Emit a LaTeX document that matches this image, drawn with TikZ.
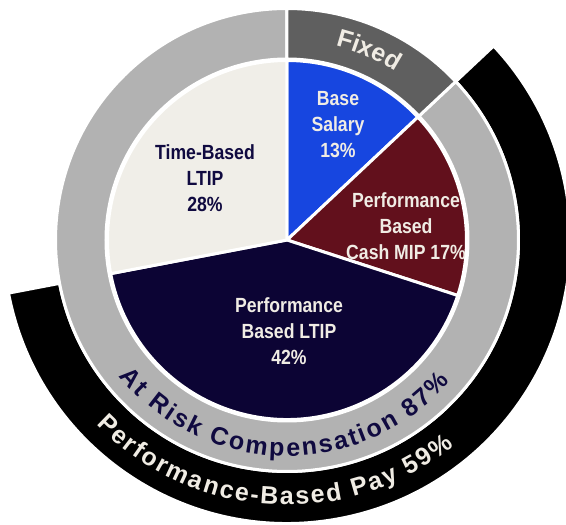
\documentclass[tikz,border=0pt]{standalone}
\usepackage{fontspec}
\setmainfont{Liberation Sans}
\newfontfamily\narrowfont{Liberation Sans}[FakeStretch=0.86]
\usetikzlibrary{decorations.text}

\definecolor{basecol}{RGB}{23,70,224}
\definecolor{mipcol}{RGB}{98,16,28}
\definecolor{ltipcol}{RGB}{12,4,52}
\definecolor{timecol}{RGB}{240,238,232}
\definecolor{ringgray}{RGB}{178,178,178}
\definecolor{fixedgray}{RGB}{95,95,95}
\definecolor{lighttext}{RGB}{240,236,228}
\definecolor{navytext}{RGB}{16,10,64}

\newcommand{\arcfont}{\bfseries\fontsize{25}{25}\selectfont}

\begin{document}
\begin{tikzpicture}[x=1pt, y=1pt,
        slice/.style={draw=white, line width=3pt},
        lbl/.style={align=center, font=\narrowfont\bfseries\fontsize{20.5}{26}\selectfont}]
        \useasboundingbox (-287,-285) rectangle (279,240);

        % outer band: performance-based pay
        \draw[slice, fill=black] (43.2:231.5pt) arc[start angle=43.2, end angle=-169.2, radius=231.5pt]
            -- (-169.2:283.5pt) arc[start angle=-169.2, end angle=43.2, radius=283.5pt] -- cycle;

        % middle ring: at risk + fixed
        \draw[slice, fill=ringgray] (90:181pt) arc[start angle=90, end angle=-316.8, radius=181pt]
            -- (43.2:231.5pt) arc[start angle=-316.8, end angle=90, radius=231.5pt] -- cycle;
        \draw[slice, fill=fixedgray] (90:181pt) arc[start angle=90, end angle=43.2, radius=181pt]
            -- (43.2:231.5pt) arc[start angle=43.2, end angle=90, radius=231.5pt] -- cycle;

        % pie
        \draw[slice, fill=basecol] (0,0) -- (90:179.5pt) arc[start angle=90, end angle=43.2, radius=179.5pt] -- cycle;
        \draw[slice, fill=mipcol] (0,0) -- (43.2:179.5pt) arc[start angle=43.2, end angle=-18, radius=179.5pt] -- cycle;
        \draw[slice, fill=ltipcol] (0,0) -- (-18:179.5pt) arc[start angle=-18, end angle=-169.2, radius=179.5pt] -- cycle;
        \draw[slice, fill=timecol] (0,0) -- (-169.2:179.5pt) arc[start angle=-169.2, end angle=-270, radius=179.5pt] -- cycle;

        \node[lbl, text=lighttext] (base) at (51,115) {Base\\Salary\\13\%};
        \node[lbl, text=lighttext] (mip) at (119,14) {Performance\\Based\\Cash MIP 17\%};
        \node[lbl, text=lighttext] (ltip) at (2,-91) {Performance\\Based LTIP\\42\%};
        \node[lbl, text=navytext] (time) at (-82,62) {Time-Based\\LTIP\\28\%};

        % curved labels
        \path[decorate, decoration={text along path, text align=center,
            text={|\arcfont\color{lighttext}|Fixed}}]
            (90:200pt) arc[start angle=90, end angle=43.2, radius=200pt];
        \path[decorate, decoration={text along path, text align=fit to path,
            text={|\arcfont\color{navytext}|At Risk Compensation 87{\%}}}]
            (219:216pt) arc[start angle=219, end angle=319, radius=216pt];
        \path[decorate, decoration={text along path, text align=fit to path,
            text={|\arcfont\color{lighttext}|Performance-Based Pay 59{\%}}}]
            (224:265pt) arc[start angle=224, end angle=309, radius=265pt];
\end{tikzpicture}
\end{document}
